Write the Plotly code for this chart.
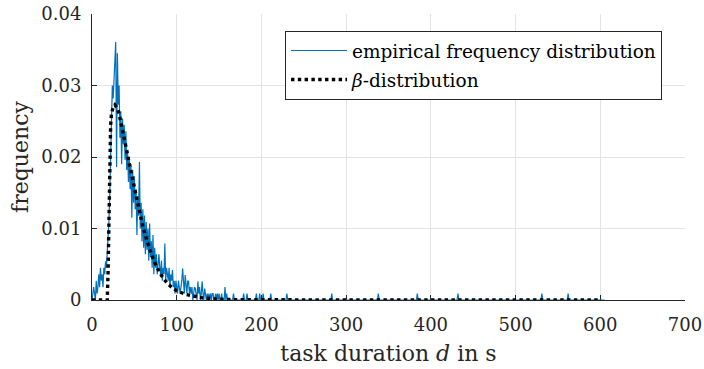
import numpy as np
import plotly.graph_objects as go

# ---- data ----
# empirical frequency per second, d = 0 .. 159 s
emp_head = [
    0.0000, 0.0009, 0.0018, 0.0009, 0.0000, 0.0027, 0.0009, 0.0018, 0.0036, 0.0018,
    0.0045, 0.0027, 0.0036, 0.0018, 0.0045, 0.0036, 0.0054, 0.0045, 0.0063, 0.0081,
    0.0110, 0.0150, 0.0190, 0.0240, 0.0300, 0.0282, 0.0318, 0.0336, 0.0361, 0.0186,
    0.0345, 0.0273, 0.0300, 0.0227, 0.0264, 0.0190, 0.0254, 0.0218, 0.0245, 0.0196,
    0.0236, 0.0182, 0.0209, 0.0165, 0.0200, 0.0155, 0.0190, 0.0115, 0.0182, 0.0136,
    0.0173, 0.0127, 0.0155, 0.0091, 0.0145, 0.0118, 0.0193, 0.0100, 0.0136, 0.0082,
    0.0127, 0.0073, 0.0118, 0.0064, 0.0109, 0.0070, 0.0100, 0.0055, 0.0107, 0.0060,
    0.0082, 0.0045, 0.0091, 0.0036, 0.0073, 0.0045, 0.0064, 0.0036, 0.0055, 0.0064,
    0.0045, 0.0036, 0.0055, 0.0027, 0.0045, 0.0036, 0.0079, 0.0027, 0.0045, 0.0036,
    0.0027, 0.0045, 0.0018, 0.0036, 0.0027, 0.0042, 0.0018, 0.0027, 0.0009, 0.0027,
    0.0018, 0.0009, 0.0027, 0.0018, 0.0009, 0.0018, 0.0027, 0.0044, 0.0018, 0.0009,
    0.0035, 0.0018, 0.0009, 0.0027, 0.0026, 0.0009, 0.0018, 0.0009, 0.0018, 0.0000,
    0.0009, 0.0018, 0.0016, 0.0009, 0.0000, 0.0026, 0.0009, 0.0018, 0.0000, 0.0009,
    0.0026, 0.0009, 0.0000, 0.0016, 0.0009, 0.0000, 0.0009, 0.0000, 0.0009, 0.0000,
    0.0009, 0.0000, 0.0009, 0.0009, 0.0000, 0.0000, 0.0009, 0.0000, 0.0009, 0.0000,
    0.0009, 0.0000, 0.0000, 0.0009, 0.0000, 0.0000, 0.0000, 0.0018, 0.0000, 0.0009,
]
# isolated single observations in the long tail (d in s, frequency)
tail_d = [167, 179, 183, 194, 198, 202, 211, 230, 283, 338, 384, 432, 531, 562]
tail_f = [0.0009] * len(tail_d)
d_max = 605

# fitted beta-distribution curve
beta_d = [0, 18, 19, 20, 21, 22, 23, 25, 27, 30, 32, 35, 38, 40, 45, 50, 55, 60,
          65, 70, 75, 80, 85, 90, 95, 100, 110, 120, 130, 140, 150, 170, 200,
          250, 300, 400, 500, 601]
beta_f = [0, 0, 0.0040, 0.0140, 0.0210, 0.0245, 0.0260, 0.0270, 0.0273, 0.0268,
          0.0260, 0.0245, 0.0228, 0.0215, 0.0185, 0.0156, 0.0128, 0.0103,
          0.0082, 0.0064, 0.0050, 0.0038, 0.0029, 0.0022, 0.0017, 0.0013,
          0.0008, 0.0005, 0.0003, 0.0002, 0.0001, 0.00005, 0.00002,
          0, 0, 0, 0, 0]

x_ticks = [0, 100, 200, 300, 400, 500, 600, 700]
y_ticks = [0, 0.01, 0.02, 0.03, 0.04]
y_tick_text = ["0", "0.01", "0.02", "0.03", "0.04"]

# ---- build the full empirical series ----
emp_d = np.arange(0, d_max + 1)
emp_f = np.zeros(len(emp_d))
emp_f[:len(emp_head)] = emp_head
for dd, ff in zip(tail_d, tail_f):
    emp_f[dd] = ff

FONT = "DejaVu Serif"
AX = "#262626"

fig = go.Figure()
fig.add_trace(go.Scatter(
    x=emp_d, y=emp_f, mode="lines", name="empirical frequency distribution",
    line=dict(color="#0072BD", width=1.2), cliponaxis=False, legendgroup="a",
))
fig.add_trace(go.Scatter(
    x=beta_d, y=beta_f, mode="lines", name="<i>β</i>-distribution",
    line=dict(color="black", width=3.4, dash="dot"), cliponaxis=False,
    legendgroup="b",
))

fig.update_layout(
    width=704, height=369,
    margin=dict(l=92, r=19, t=14, b=69, autoexpand=False),
    paper_bgcolor="white", plot_bgcolor="white",
    font=dict(family=FONT, size=18, color=AX),
    showlegend=True,
    legend=dict(
        x=0.3255, y=0.9406, xanchor="left", yanchor="top",
        bgcolor="white", bordercolor=AX, borderwidth=1,
        font=dict(family=FONT, size=18.5, color="black"),
        itemwidth=56, tracegroupgap=2, traceorder="grouped",
    ),
    xaxis=dict(
        range=[0, 700], tickvals=x_ticks, ticks="inside", ticklen=5,
        tickcolor=AX, showline=True, linecolor=AX, linewidth=1,
        showgrid=True, gridcolor="#e3e3e3", zeroline=False,
        layer="below traces", automargin=False,
        title=dict(text="task duration <i>d</i> in s", standoff=12),
        tickfont=dict(family=FONT, size=18, color=AX),
        ticklabelstandoff=8,
    ),
    yaxis=dict(
        range=[0, 0.04], tickvals=y_ticks, ticktext=y_tick_text,
        ticks="inside", ticklen=5, tickcolor=AX, showline=True,
        linecolor=AX, linewidth=1, showgrid=True, gridcolor="#e3e3e3",
        zeroline=False, layer="below traces", automargin=False,
        title=dict(text="frequency", standoff=6),
        tickfont=dict(family=FONT, size=18, color=AX),
        ticklabelstandoff=6,
    ),
)

# remove the default 8px body margin so the figure fills the window exactly
fig.write_html(
    "out.html",
    config={"displayModeBar": False},
    post_script="document.body.style.margin='0';document.body.style.overflow='hidden';",
)
